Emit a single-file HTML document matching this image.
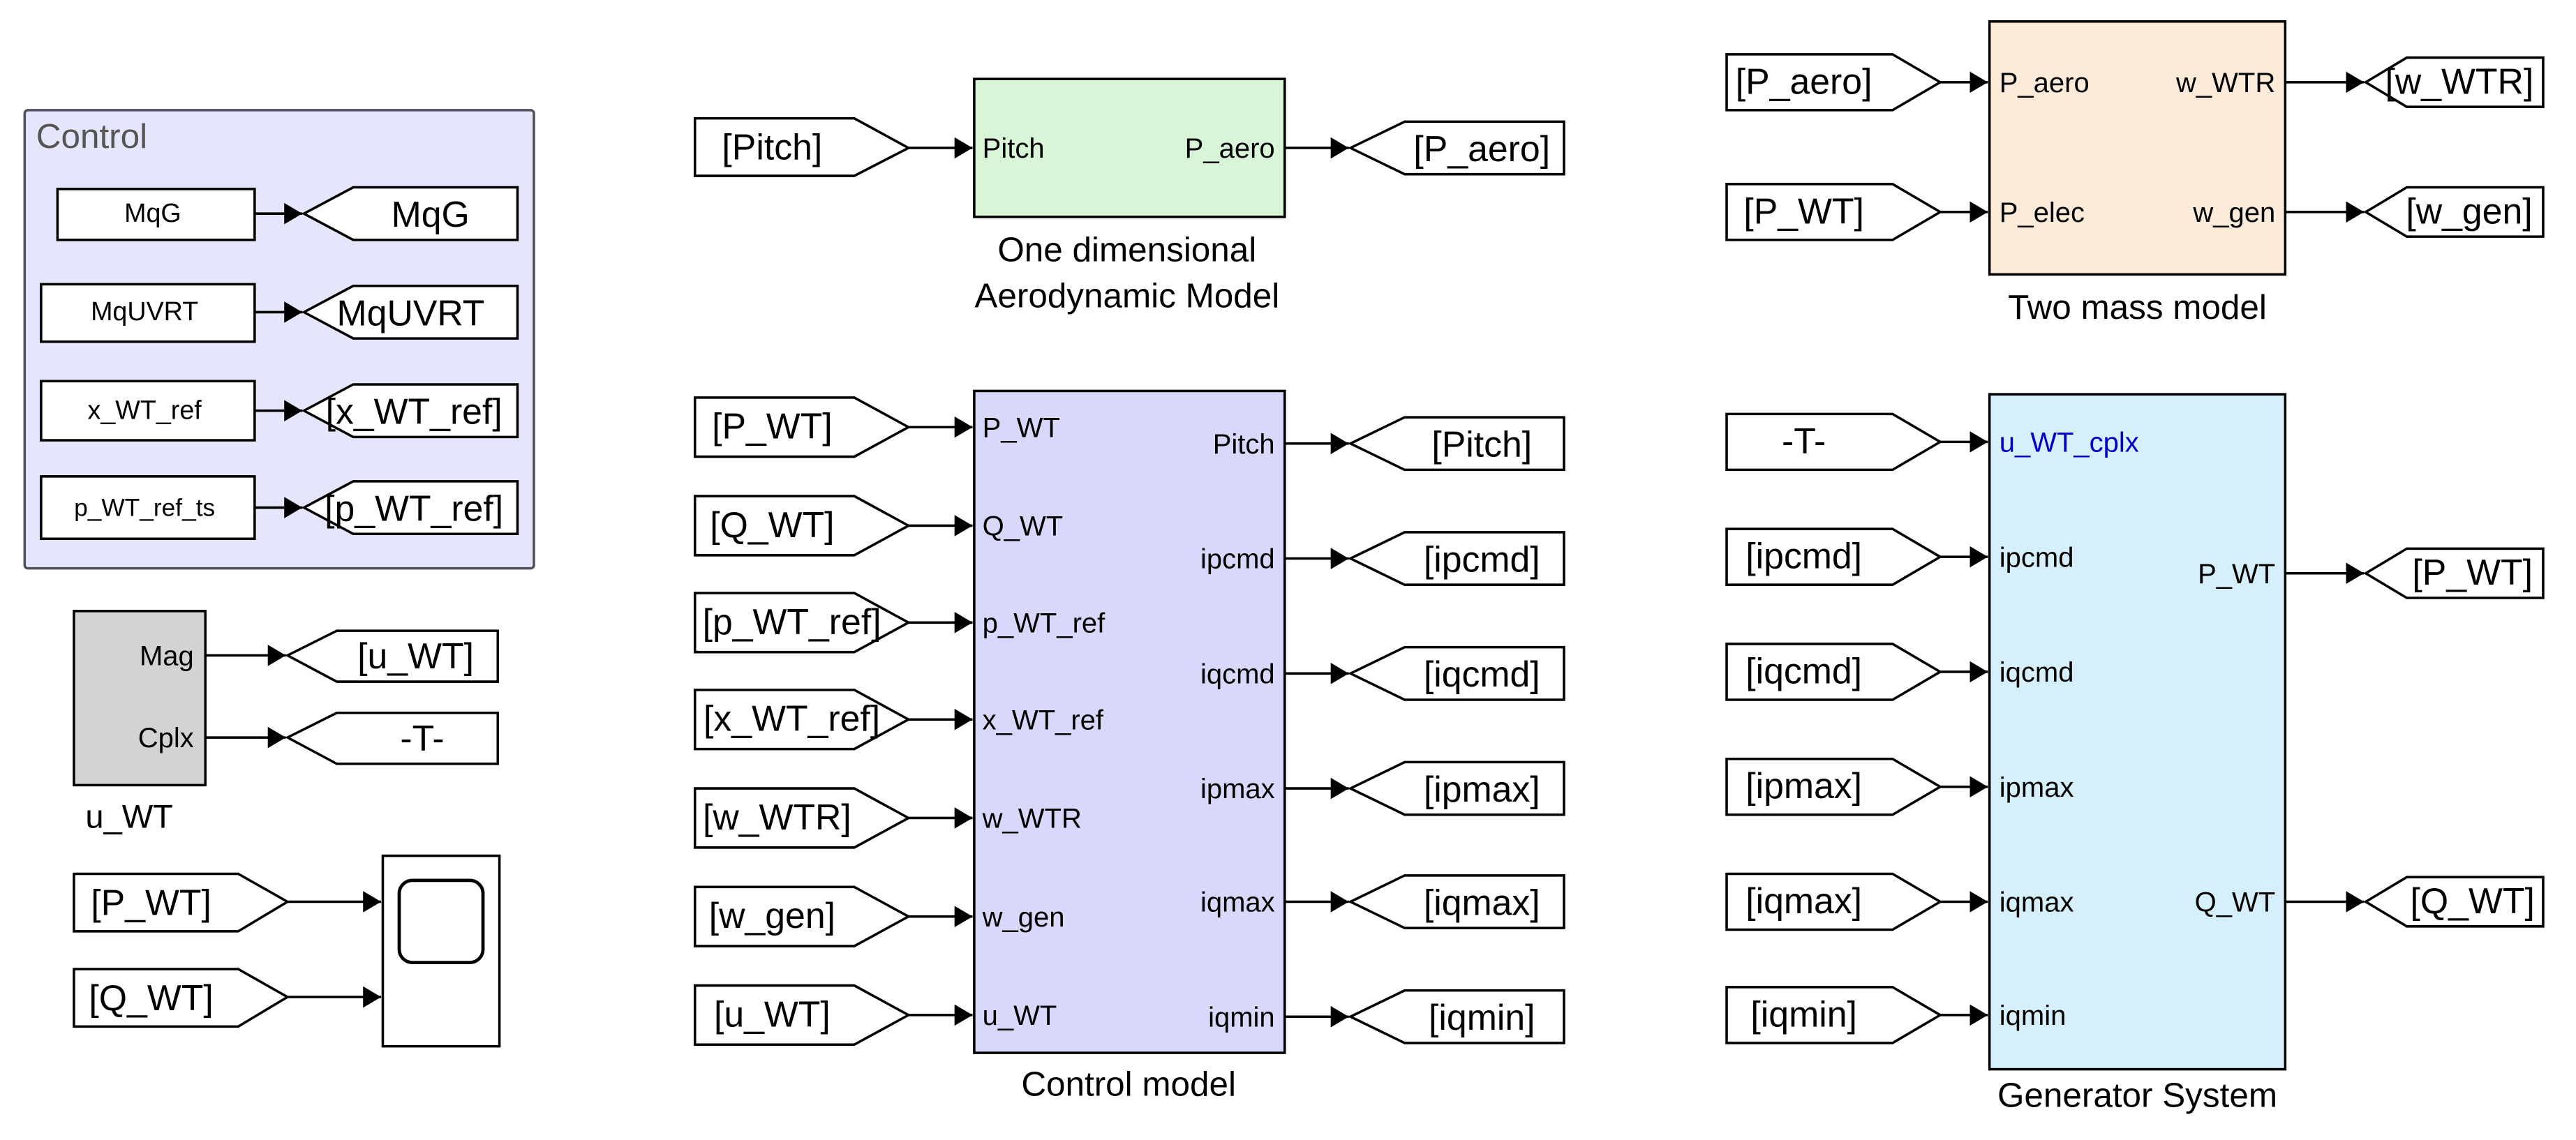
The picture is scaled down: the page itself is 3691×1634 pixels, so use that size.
<!DOCTYPE html>
<html><head><meta charset="utf-8"><style>
html,body{margin:0;padding:0;background:#fff;}
svg{display:block;}
text{font-family:"Liberation Sans",Arial,sans-serif;fill:#000;}
.t{font-size:22px;}
.p{font-size:17px;}
.c{font-size:16px;}
.l{font-size:21px;}
.s{fill:#fff;stroke:#000;stroke-width:1.5;}
.ln{stroke:#000;stroke-width:1.5;fill:none;}
</style></head><body>
<svg width="3691" height="1634" viewBox="0 0 1568 694" xmlns="http://www.w3.org/2000/svg">
<defs>
<marker id="a" markerWidth="11" markerHeight="13" refX="11" refY="6.5" orient="auto" markerUnits="userSpaceOnUse"><path d="M0,0 L11,6.5 L0,13 z" fill="#000"/></marker>
</defs>

<!-- Control frame -->
<rect x="15" y="67" width="310" height="279" rx="2" fill="#e5e5fb" stroke="#505060" stroke-width="1.5"/>
<text x="22" y="90" style="font-size:21px;fill:#555">Control</text>
<rect class="s" x="35" y="115" width="120" height="31"/><text class="c" x="93" y="135" text-anchor="middle">MqG</text>
<rect class="s" x="25" y="173" width="130" height="35"/><text class="c" x="88" y="195" text-anchor="middle">MqUVRT</text>
<rect class="s" x="25" y="232" width="130" height="36"/><text class="c" x="88" y="255" text-anchor="middle">x_WT_ref</text>
<rect class="s" x="25" y="290" width="130" height="38"/><text class="c" x="88" y="314" text-anchor="middle" style="font-size:15px">p_WT_ref_ts</text>
<line class="ln" x1="155" y1="130" x2="184" y2="130" marker-end="url(#a)"/>
<line class="ln" x1="155" y1="190" x2="184" y2="190" marker-end="url(#a)"/>
<line class="ln" x1="155" y1="250" x2="184" y2="250" marker-end="url(#a)"/>
<line class="ln" x1="155" y1="309" x2="184" y2="309" marker-end="url(#a)"/>
<polygon class="s" points="185,130 215,114 315,114 315,146 215,146"/><text class="t" x="262" y="138" text-anchor="middle">MqG</text>
<polygon class="s" points="185,190 215,174 315,174 315,206 215,206"/><text class="t" x="250" y="198" text-anchor="middle">MqUVRT</text>
<polygon class="s" points="185,250 215,234 315,234 315,266 215,266"/><text class="t" x="252" y="258" text-anchor="middle">[x_WT_ref]</text>
<polygon class="s" points="185,309 215,293 315,293 315,325 215,325"/><text class="t" x="252" y="317" text-anchor="middle">[p_WT_ref]</text>

<!-- u_WT -->
<rect x="45" y="372" width="80" height="106" fill="#d3d3d3" stroke="#000" stroke-width="1.5"/>
<text class="p" x="118" y="405" text-anchor="end">Mag</text>
<text class="p" x="118" y="455" text-anchor="end">Cplx</text>
<text class="l" x="52" y="504" style="font-size:20px">u_WT</text>
<line class="ln" x1="125" y1="399" x2="174" y2="399" marker-end="url(#a)"/>
<line class="ln" x1="125" y1="449" x2="174" y2="449" marker-end="url(#a)"/>
<polygon class="s" points="175,399 205,384 303,384 303,415 205,415"/><text class="t" x="253" y="407" text-anchor="middle">[u_WT]</text>
<polygon class="s" points="175,449 205,434 303,434 303,465 205,465"/><text class="t" x="257" y="457" text-anchor="middle">-T-</text>

<!-- Scope -->
<rect class="s" x="233" y="521" width="71" height="116"/>
<rect x="243" y="536" width="51" height="50" rx="8" fill="#fff" stroke="#000" stroke-width="2"/>
<polygon class="s" points="45,532 145,532 175,549 145,567 45,567"/><text class="t" x="92" y="557" text-anchor="middle">[P_WT]</text>
<polygon class="s" points="45,590 145,590 175,607 145,625 45,625"/><text class="t" x="92" y="615" text-anchor="middle">[Q_WT]</text>
<line class="ln" x1="175" y1="549" x2="232" y2="549" marker-end="url(#a)"/>
<line class="ln" x1="175" y1="607" x2="232" y2="607" marker-end="url(#a)"/>

<!-- Aero -->
<rect x="593" y="48" width="189" height="84" fill="#d8f5d8" stroke="#000" stroke-width="1.5"/>
<text class="p" x="598" y="96">Pitch</text>
<text class="p" x="776" y="96" text-anchor="end">P_aero</text>
<polygon class="s" points="423,72 520,72 553,90 520,107 423,107"/><text class="t" x="470" y="97" text-anchor="middle">[Pitch]</text>
<line class="ln" x1="553" y1="90" x2="592" y2="90" marker-end="url(#a)"/>
<line class="ln" x1="782" y1="90" x2="821" y2="90" marker-end="url(#a)"/>
<polygon class="s" points="822,90 855,74 952,74 952,106 855,106"/><text class="t" x="902" y="98" text-anchor="middle">[P_aero]</text>
<text class="l" x="686" y="159" text-anchor="middle">One dimensional</text>
<text class="l" x="686" y="187" text-anchor="middle">Aerodynamic Model</text>

<!-- Control model -->
<rect x="593" y="238" width="189" height="403" fill="#d8d8fb" stroke="#000" stroke-width="1.5"/>
<g>
<polygon class="s" points="423,242 520,242 553,260 520,278 423,278"/><text class="t" x="470" y="267" text-anchor="middle">[P_WT]</text>
<polygon class="s" points="423,302 520,302 553,320 520,338 423,338"/><text class="t" x="470" y="327" text-anchor="middle">[Q_WT]</text>
<polygon class="s" points="423,361 520,361 553,379 520,397 423,397"/><text class="t" x="482" y="386" text-anchor="middle">[p_WT_ref]</text>
<polygon class="s" points="423,420 520,420 553,438 520,456 423,456"/><text class="t" x="482" y="445" text-anchor="middle">[x_WT_ref]</text>
<polygon class="s" points="423,480 520,480 553,498 520,516 423,516"/><text class="t" x="473" y="505" text-anchor="middle">[w_WTR]</text>
<polygon class="s" points="423,540 520,540 553,558 520,576 423,576"/><text class="t" x="470" y="565" text-anchor="middle">[w_gen]</text>
<polygon class="s" points="423,600 520,600 553,618 520,636 423,636"/><text class="t" x="470" y="625" text-anchor="middle">[u_WT]</text>
</g>
<line class="ln" x1="553" y1="260" x2="592" y2="260" marker-end="url(#a)"/>
<line class="ln" x1="553" y1="320" x2="592" y2="320" marker-end="url(#a)"/>
<line class="ln" x1="553" y1="379" x2="592" y2="379" marker-end="url(#a)"/>
<line class="ln" x1="553" y1="438" x2="592" y2="438" marker-end="url(#a)"/>
<line class="ln" x1="553" y1="498" x2="592" y2="498" marker-end="url(#a)"/>
<line class="ln" x1="553" y1="558" x2="592" y2="558" marker-end="url(#a)"/>
<line class="ln" x1="553" y1="618" x2="592" y2="618" marker-end="url(#a)"/>
<text class="p" x="598" y="266">P_WT</text>
<text class="p" x="598" y="326">Q_WT</text>
<text class="p" x="598" y="385">p_WT_ref</text>
<text class="p" x="598" y="444">x_WT_ref</text>
<text class="p" x="598" y="504">w_WTR</text>
<text class="p" x="598" y="564">w_gen</text>
<text class="p" x="598" y="624">u_WT</text>
<text class="p" x="776" y="276" text-anchor="end">Pitch</text>
<text class="p" x="776" y="346" text-anchor="end">ipcmd</text>
<text class="p" x="776" y="416" text-anchor="end">iqcmd</text>
<text class="p" x="776" y="486" text-anchor="end">ipmax</text>
<text class="p" x="776" y="555" text-anchor="end">iqmax</text>
<text class="p" x="776" y="625" text-anchor="end">iqmin</text>
<line class="ln" x1="782" y1="270" x2="821" y2="270" marker-end="url(#a)"/>
<line class="ln" x1="782" y1="340" x2="821" y2="340" marker-end="url(#a)"/>
<line class="ln" x1="782" y1="410" x2="821" y2="410" marker-end="url(#a)"/>
<line class="ln" x1="782" y1="480" x2="821" y2="480" marker-end="url(#a)"/>
<line class="ln" x1="782" y1="549" x2="821" y2="549" marker-end="url(#a)"/>
<line class="ln" x1="782" y1="619" x2="821" y2="619" marker-end="url(#a)"/>
<polygon class="s" points="822,270 855,254 952,254 952,286 855,286"/><text class="t" x="902" y="278" text-anchor="middle">[Pitch]</text>
<polygon class="s" points="822,340 855,324 952,324 952,356 855,356"/><text class="t" x="902" y="348" text-anchor="middle">[ipcmd]</text>
<polygon class="s" points="822,410 855,394 952,394 952,426 855,426"/><text class="t" x="902" y="418" text-anchor="middle">[iqcmd]</text>
<polygon class="s" points="822,480 855,464 952,464 952,496 855,496"/><text class="t" x="902" y="488" text-anchor="middle">[ipmax]</text>
<polygon class="s" points="822,549 855,533 952,533 952,565 855,565"/><text class="t" x="902" y="557" text-anchor="middle">[iqmax]</text>
<polygon class="s" points="822,619 855,603 952,603 952,635 855,635"/><text class="t" x="902" y="627" text-anchor="middle">[iqmin]</text>
<text class="l" x="687" y="667" text-anchor="middle">Control model</text>

<!-- Two mass -->
<rect x="1211" y="13" width="180" height="154" fill="#fdebd9" stroke="#000" stroke-width="1.5"/>
<polygon class="s" points="1051,33 1152,33 1181,50 1152,67 1051,67"/><text class="t" x="1098" y="57" text-anchor="middle">[P_aero]</text>
<polygon class="s" points="1051,112 1152,112 1181,129 1152,146 1051,146"/><text class="t" x="1098" y="136" text-anchor="middle">[P_WT]</text>
<line class="ln" x1="1181" y1="50" x2="1210" y2="50" marker-end="url(#a)"/>
<line class="ln" x1="1181" y1="129" x2="1210" y2="129" marker-end="url(#a)"/>
<text class="p" x="1217" y="56">P_aero</text>
<text class="p" x="1217" y="135">P_elec</text>
<text class="p" x="1385" y="56" text-anchor="end">w_WTR</text>
<text class="p" x="1385" y="135" text-anchor="end">w_gen</text>
<line class="ln" x1="1391" y1="50" x2="1439" y2="50" marker-end="url(#a)"/>
<line class="ln" x1="1391" y1="129" x2="1439" y2="129" marker-end="url(#a)"/>
<polygon class="s" points="1440,50 1465,35 1548,35 1548,65 1465,65"/><text class="t" x="1497" y="57" text-anchor="middle">[w_WTR]</text>
<polygon class="s" points="1440,129 1465,114 1548,114 1548,144 1465,144"/><text class="t" x="1503" y="136" text-anchor="middle">[w_gen]</text>
<text class="l" x="1301" y="194" text-anchor="middle">Two mass model</text>

<!-- Generator -->
<rect x="1211" y="240" width="180" height="411" fill="#d6f0fb" stroke="#000" stroke-width="1.5"/>
<polygon class="s" points="1051,252 1152,252 1181,269 1152,286 1051,286"/><text class="t" x="1098" y="276" text-anchor="middle">-T-</text>
<polygon class="s" points="1051,322 1152,322 1181,339 1152,356 1051,356"/><text class="t" x="1098" y="346" text-anchor="middle">[ipcmd]</text>
<polygon class="s" points="1051,392 1152,392 1181,409 1152,426 1051,426"/><text class="t" x="1098" y="416" text-anchor="middle">[iqcmd]</text>
<polygon class="s" points="1051,462 1152,462 1181,479 1152,496 1051,496"/><text class="t" x="1098" y="486" text-anchor="middle">[ipmax]</text>
<polygon class="s" points="1051,532 1152,532 1181,549 1152,566 1051,566"/><text class="t" x="1098" y="556" text-anchor="middle">[iqmax]</text>
<polygon class="s" points="1051,601 1152,601 1181,618 1152,635 1051,635"/><text class="t" x="1098" y="625" text-anchor="middle">[iqmin]</text>
<line class="ln" x1="1181" y1="269" x2="1210" y2="269" marker-end="url(#a)"/>
<line class="ln" x1="1181" y1="339" x2="1210" y2="339" marker-end="url(#a)"/>
<line class="ln" x1="1181" y1="409" x2="1210" y2="409" marker-end="url(#a)"/>
<line class="ln" x1="1181" y1="479" x2="1210" y2="479" marker-end="url(#a)"/>
<line class="ln" x1="1181" y1="549" x2="1210" y2="549" marker-end="url(#a)"/>
<line class="ln" x1="1181" y1="618" x2="1210" y2="618" marker-end="url(#a)"/>
<text class="p" x="1217" y="275" style="fill:#0000c8">u_WT_cplx</text>
<text class="p" x="1217" y="345">ipcmd</text>
<text class="p" x="1217" y="415">iqcmd</text>
<text class="p" x="1217" y="485">ipmax</text>
<text class="p" x="1217" y="555">iqmax</text>
<text class="p" x="1217" y="624">iqmin</text>
<text class="p" x="1385" y="355" text-anchor="end">P_WT</text>
<text class="p" x="1385" y="555" text-anchor="end">Q_WT</text>
<line class="ln" x1="1391" y1="349" x2="1439" y2="349" marker-end="url(#a)"/>
<line class="ln" x1="1391" y1="549" x2="1439" y2="549" marker-end="url(#a)"/>
<polygon class="s" points="1440,349 1465,334 1548,334 1548,364 1465,364"/><text class="t" x="1505" y="356" text-anchor="middle">[P_WT]</text>
<polygon class="s" points="1440,549 1465,534 1548,534 1548,564 1465,564"/><text class="t" x="1505" y="556" text-anchor="middle">[Q_WT]</text>
<text class="l" x="1301" y="674" text-anchor="middle">Generator System</text>
</svg>
</body></html>
